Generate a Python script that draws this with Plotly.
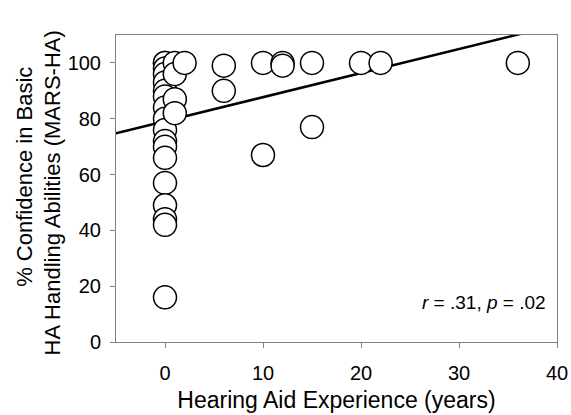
import plotly.graph_objects as go

# Hearing aid experience (years) and % confidence (MARS-HA)
experience = [0, 0, 0, 0, 0, 0, 0, 0, 0, 0, 0, 0, 0, 0, 0, 0, 0, 0,
              1, 1, 1, 1, 2, 6, 6, 10, 10, 12, 12, 15, 15, 20, 22, 36]
confidence = [100, 100, 98, 96, 93, 90, 88, 84, 80, 76, 72, 70, 66, 57, 49, 44, 42, 16,
              100, 96, 87, 82, 100, 99, 90, 100, 67, 100, 99, 100, 77, 100, 100, 100]

# Regression line
fit_intercept = 79.1
fit_slope = 0.863
fit_x = [-5, 40]
fit_y = [fit_intercept + fit_slope * x for x in fit_x]

x_ticks = [0, 10, 20, 30, 40]
y_ticks = [0, 20, 40, 60, 80, 100]

y_title_lines = ["% Confidence in Basic", "HA Handling Abilities (MARS-HA)"]

font = "Liberation Sans, Arial, sans-serif"

fig = go.Figure()
fig.add_trace(go.Scatter(x=fit_x, y=fit_y, mode="lines",
                         line=dict(color="black", width=2.5), showlegend=False))
fig.add_trace(go.Scatter(x=experience, y=confidence, mode="markers",
                         marker=dict(size=23, color="white",
                                     line=dict(color="black", width=1.5)),
                         showlegend=False, cliponaxis=False))

fig.add_annotation(x=1, y=0.13, xref="paper", yref="paper", xanchor="right",
                   yanchor="middle", showarrow=False,
                   text="<i>r</i> = .31, <i>p</i> = .02",
                   font=dict(family=font, size=19, color="black"), xshift=-9)

for txt, ypos, xs in zip(y_title_lines, [0.538, 0.484], [-91, -64]):
    fig.add_annotation(x=0, y=ypos, xref="paper", yref="paper", xanchor="center",
                       yanchor="middle", showarrow=False, textangle=-90,
                       text=txt, xshift=xs,
                       font=dict(family=font, size=22, color="black"))

axis_common = dict(showline=True, linecolor="#808080", linewidth=1, mirror=True,
                   ticks="outside", ticklen=5, tickcolor="#808080",
                   showgrid=False, zeroline=False, automargin=False,
                   tickfont=dict(family=font, size=20, color="black"))

fig.update_xaxes(range=[-5, 40], tickvals=x_ticks, ticklabelstandoff=8,
                 title=dict(text="Hearing Aid Experience (years)", standoff=8,
                            font=dict(family=font, size=23, color="black")),
                 **axis_common)
fig.update_yaxes(range=[0, 110], tickvals=y_ticks, ticklabelstandoff=5,
                 **axis_common)

fig.update_layout(width=571, height=415,
                  margin=dict(l=116, r=14, t=35, b=73),
                  plot_bgcolor="white", paper_bgcolor="white")

fig.write_html("out.html", config={"displayModeBar": False},
               post_script="document.body.style.margin='0';"
                           "document.body.style.overflow='hidden';")
